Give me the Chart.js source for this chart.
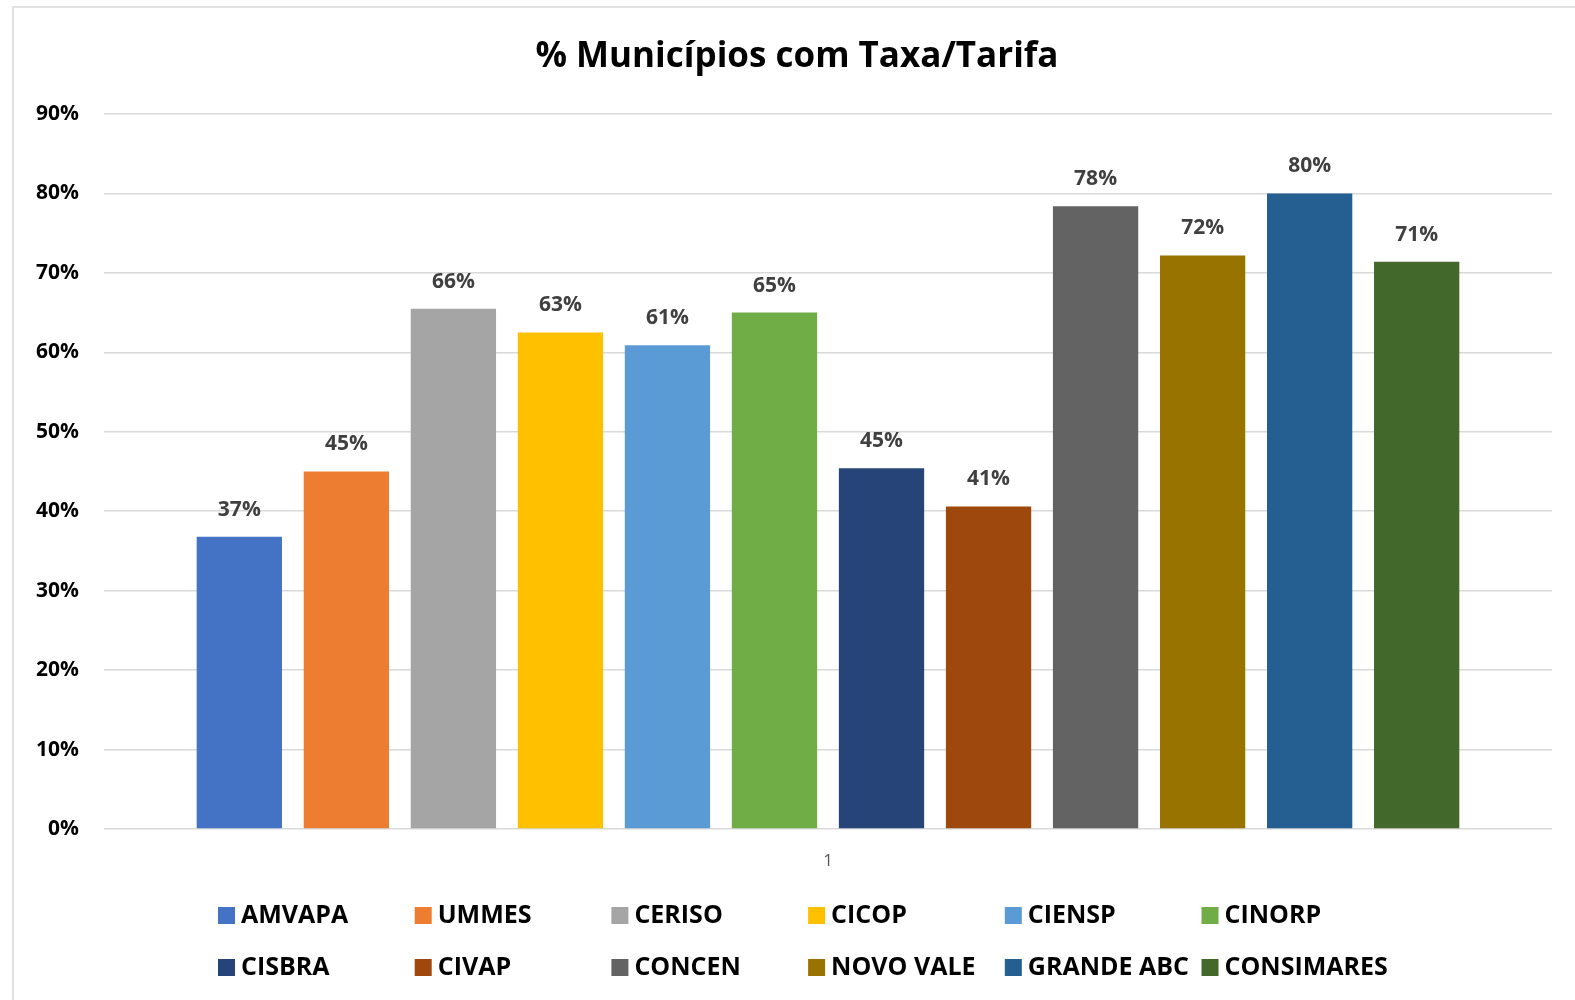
<!DOCTYPE html>
<html>
<head>
<meta charset="utf-8">
<script src="https://cdn.jsdelivr.net/npm/chart.js@4/dist/chart.umd.min.js"></script>
<style>
    html, body { margin: 0; padding: 0; background: #fff; }
    #wrap { width: 1575px; height: 1000px; position: relative; }
</style>
</head>
<body>
<div id="wrap"><canvas id="taxa-canvas" width="1575" height="1000"></canvas></div>
<script>
const titleText = "% Municípios com Taxa/Tarifa"
const categories = ["1"]
const seriesNames = ["AMVAPA", "UMMES", "CERISO", "CICOP", "CIENSP", "CINORP",
    "CISBRA", "CIVAP", "CONCEN", "NOVO VALE", "GRANDE ABC", "CONSIMARES"]
const seriesValues = [36.8, 45.0, 65.5, 62.5, 60.9, 65.0, 45.4, 40.6, 78.4, 72.2, 80.0, 71.4]
const seriesColors = ["#4472C4", "#ED7D31", "#A5A5A5", "#FFC000", "#5B9BD5", "#70AD47",
    "#264478", "#9E480E", "#636363", "#997300", "#255E91", "#43682B"]
const yTicks = [0, 10, 20, 30, 40, 50, 60, 70, 80, 90]

const FONT = "'Open Sans', 'Noto Sans', sans-serif"

// frame + title + value labels + legend in 2 rows of 6
const excelLook = {
    id: "excelLook",
    beforeDraw(chart) {
        const ctx = chart.ctx
        ctx.save()
        ctx.fillStyle = "#fff"
        ctx.fillRect(0, 0, chart.width, chart.height)
        ctx.strokeStyle = "#d9d9d9"
        ctx.lineWidth = 1.5
        ctx.beginPath()
        ctx.moveTo(13, chart.height)
        ctx.lineTo(13, 7)
        ctx.lineTo(chart.width, 7)
        ctx.stroke()
        ctx.restore()
    },
    afterDraw(chart) {
        const ctx = chart.ctx
        ctx.save()
        ctx.fillStyle = "#000"
        ctx.font = "bold 35px " + FONT
        ctx.textAlign = "center"
        ctx.textBaseline = "middle"
        ctx.fillText(titleText, 797, 57)

        ctx.font = "bold 21px " + FONT
        ctx.fillStyle = "#404040"
        chart.data.datasets.forEach((ds, i) => {
            const bar = chart.getDatasetMeta(i).data[0]
            ctx.fillText(Math.round(ds.data[0]) + "%", bar.x, bar.y - 27)
        })

        ctx.font = "bold 25px " + FONT
        ctx.textAlign = "left"
        chart.data.datasets.forEach((ds, i) => {
            const col = i % 6
            const row = Math.floor(i / 6)
            const x = 218 + col * 196.7
            const y = 915 + row * 52
            ctx.fillStyle = ds.backgroundColor
            ctx.fillRect(x, y - 8, 17, 17)
            ctx.fillStyle = "#000"
            ctx.fillText(ds.label, x + 23, y + 1)
        })
        ctx.restore()
    }
}

const canvas = document.querySelector("#taxa-canvas")

const taxaChart = new Chart(canvas, {
    type: "bar",
    data: {
        labels: categories,
        datasets: seriesNames.map((name, i) => ({
            label: name,
            data: [seriesValues[i]],
            backgroundColor: seriesColors[i],
            categoryPercentage: 0.887,
            barPercentage: 0.797
        }))
    },
    options: {
        responsive: false,
        animation: false,
        layout: {
            padding: { top: 114, right: 23, left: 0, bottom: 0 }
        },
        plugins: {
            legend: { display: false },
            title: { display: false },
            tooltip: { enabled: false }
        },
        scales: {
            x: {
                grid: { display: false },
                border: { display: false },
                ticks: {
                    color: "#595959",
                    font: { family: FONT, size: 17 },
                    padding: 14
                },
                afterFit(scale) { scale.height = 171 }
            },
            y: {
                min: 0,
                max: 90,
                afterBuildTicks(scale) {
                    scale.ticks = yTicks.map(v => ({ value: v }))
                },
                grid: {
                    color: "#d9d9d9",
                    lineWidth: 1.5,
                    drawTicks: false
                },
                border: { display: false },
                ticks: {
                    color: "#000",
                    font: { family: FONT, size: 21, weight: "bold" },
                    padding: 25,
                    callback: v => v + "%"
                },
                afterFit(scale) { scale.width = 104 }
            }
        }
    },
    plugins: [excelLook]
})
</script>
</body>
</html>
